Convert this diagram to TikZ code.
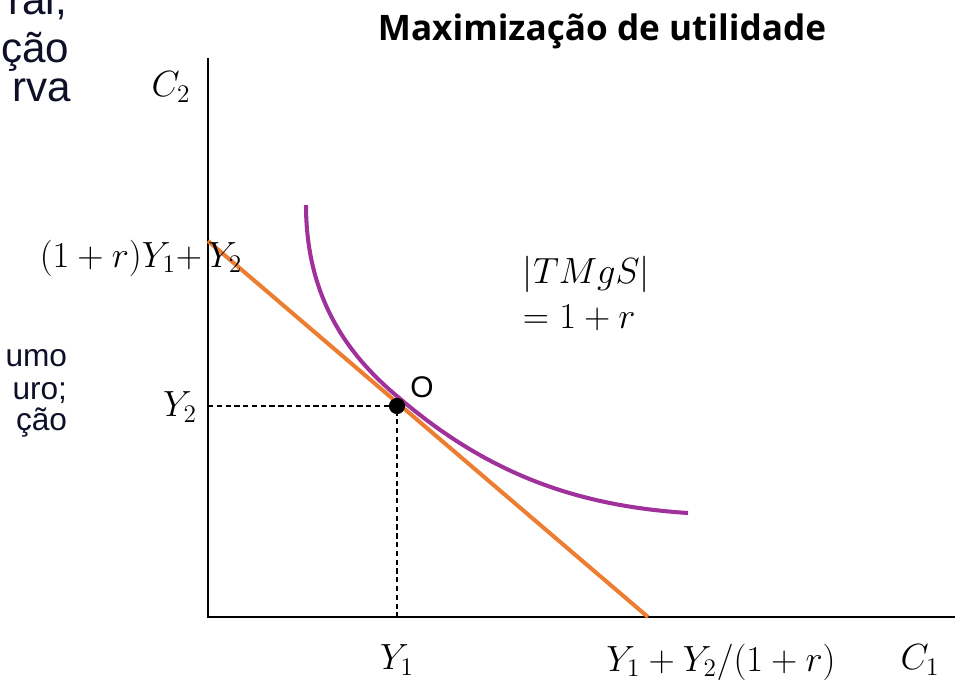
\documentclass[tikz,border=0pt]{standalone}
\usepackage{fontspec}
\setmainfont{Liberation Sans}
\newfontfamily\titlefont{Open Sans}
\definecolor{budorange}{HTML}{ED7D31}
\definecolor{indpurple}{HTML}{A0309A}
\definecolor{txtnavy}{HTML}{0E1028}

\begin{document}
\begin{tikzpicture}[x=0.02cm,y=-0.02cm,line width=1.1pt,
    mathlbl/.style={font=\fontsize{22}{26}\selectfont},
    sidetxt/.style={anchor=base east,inner sep=0pt,text=txtnavy}]
  \useasboundingbox (0,0) rectangle (955,681);
  % axes
  \coordinate (orig) at (208,617);
  \coordinate (ytop) at (208,58);
  \coordinate (xend) at (955,617);
  \draw (ytop) -- (orig) -- (xend);
  % budget line
  \coordinate (bTop) at (208,241);
  \coordinate (bBot) at (648,617);
  \draw[budorange, line width=2.3pt] (bTop) -- (bBot);
  % indifference curve, tangent to the budget line at (tan)
  \coordinate (icTop) at (306,205);
  \coordinate (tan) at (398,397);
  \coordinate (icEnd) at (688,513);
  \draw[indpurple, line width=2.3pt] (icTop) .. controls (306,300) and (350,357) .. (tan)
    .. controls (490,476) and (580,506) .. (icEnd);
  % optimum and its guides
  \coordinate (opt) at (397,406);
  \draw[dash pattern=on 3pt off 2pt, line width=0.8pt] (opt -| orig) -- (opt) -- (opt |- orig);
  \fill (opt) circle[radius=4.6pt];
  \node[font=\fontsize{17}{20}\selectfont] (optLbl) at (422,387) {O};
  % title
  \node[anchor=base, font=\titlefont\bfseries\fontsize{20}{24}\selectfont] (title) at (602,40) {Maximização de utilidade};
  % axis labels
  \node[mathlbl] (c2Lbl) at (171,87) {$C_2$};
  \node[mathlbl] (c1Lbl) at (920,660) {$C_1$};
  \node[mathlbl, anchor=base east, inner sep=0pt] (yInt) at (243,267) {$(1+r)Y_1{+}\,Y_2$};
  \node[mathlbl] (xInt) at (721,662) {$Y_1+Y_2/(1+r)$};
  \node[mathlbl] (y2Lbl) at (180,407) {$Y_2$};
  \node[mathlbl] (y1Lbl) at (397,660) {$Y_1$};
  \node[mathlbl, align=left, anchor=north west, inner sep=0pt] (mrsLbl) at (522,255) {$|TMgS|$\\$=1+r$};
  % cut-off text on the left
  \foreach \t/\x/\y in {{ral,}/68/14, ção/70/62, rva/72/101}{
    \node[sidetxt, font=\fontsize{24}{28}\selectfont] at (\x,\y) {\t};
  }
  \foreach \t/\y in {umo/366, uro;/399, ção/430}{
    \node[sidetxt, font=\fontsize{18}{21}\selectfont] at (68,\y) {\t};
  }
\end{tikzpicture}
\end{document}
